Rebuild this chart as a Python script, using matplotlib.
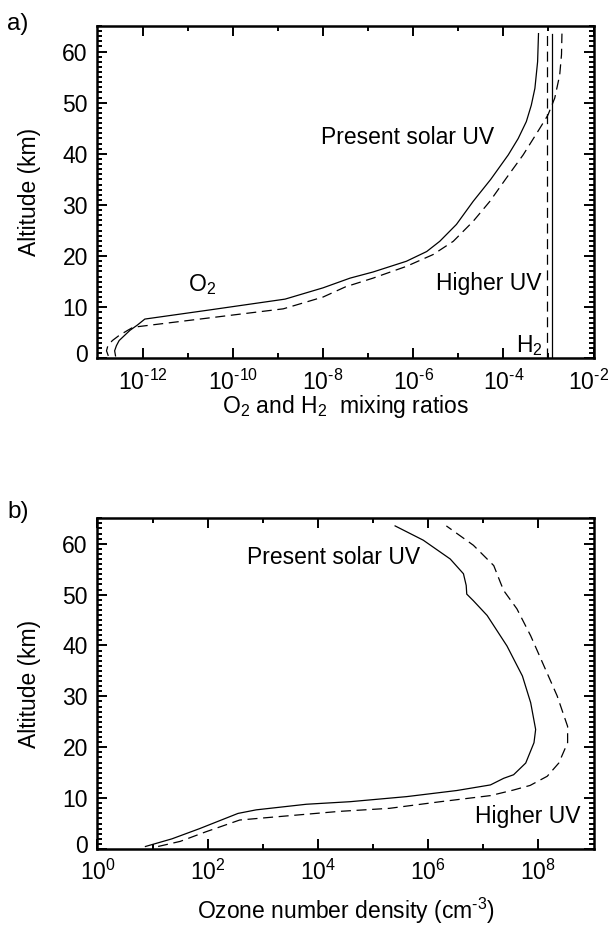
import matplotlib
matplotlib.use('Agg')
import matplotlib.pyplot as plt
import matplotlib.transforms as mtrans
import numpy as np
from matplotlib.ticker import FixedLocator, MultipleLocator, NullFormatter

plt.rcParams['font.family'] = ['Liberation Sans', 'DejaVu Sans']
plt.rcParams['mathtext.fontset'] = 'custom'
plt.rcParams['mathtext.rm'] = 'Liberation Sans'
plt.rcParams['mathtext.it'] = 'Liberation Sans:italic'
plt.rcParams['mathtext.bf'] = 'Liberation Sans:bold'

FS = 16.5      # annotations / axis titles
TFS = 16.5     # tick labels
HY = '\u2010'  # short hyphen used for the exponents

# ---- panel a: O2 and H2 mixing ratios (log10 values) ----
o2_alt_present = [0.5, 1.5, 2.5, 3.5, 4.5, 5.5, 6.5, 7.7, 9.5, 11.6, 13.8, 15.7, 16.9,
                  19.0, 20.9, 22.9, 26.2, 30.7, 35.0, 39.8, 43.0, 46.3, 49.5, 52.8,
                  58.0, 63.5]
o2_log_present = [-12.60, -12.62, -12.58, -12.52, -12.40, -12.28, -12.12, -11.95, -10.50,
                  -8.84, -8.00, -7.40, -6.89, -6.15, -5.70, -5.41, -5.04, -4.67, -4.28,
                  -3.89, -3.67, -3.49, -3.38, -3.30, -3.24, -3.22]

o2_alt_higher = [0.5, 1.5, 2.5, 3.5, 4.5, 5.5, 6.1, 9.7, 12.0, 14.0, 15.7, 18.0, 20.3,
                 22.9, 26.8, 30.7, 35.3, 39.8, 45.0, 47.6, 50.9, 55.4, 59.4, 63.5]
o2_log_higher = [-12.76, -12.80, -12.77, -12.67, -12.52, -12.33, -12.21, -8.88, -8.00,
                 -7.50, -6.89, -6.15, -5.56, -5.11, -4.67, -4.30, -3.93, -3.56, -3.19,
                 -3.01, -2.86, -2.75, -2.71, -2.70]

h2_alt = [0.0, 63.5]
h2_present = [1.2e-3, 1.2e-3]
h2_higher = [0.95e-3, 0.95e-3]

# ---- panel b: ozone number density (log10 cm^-3) ----
o3_alt_present = [0.5, 2.0, 4.0, 5.5, 7.0, 7.7, 8.8, 9.3, 10.3, 11.5, 12.6, 13.9, 14.6,
                  16.9, 20.9, 23.5, 28.75, 34.0, 39.9, 45.9, 48.8, 50.1, 51.8, 54.1,
                  57.0, 60.7, 63.5]
o3_log_present = [0.87, 1.35, 1.85, 2.20, 2.55, 2.88, 3.79, 4.58, 5.61, 6.52, 7.13, 7.37,
                  7.55, 7.77, 7.92, 7.95, 7.86, 7.71, 7.43, 7.07, 6.82, 6.70, 6.69, 6.64,
                  6.40, 5.91, 5.40]

o3_alt_higher = [0.5, 1.5, 3.4, 5.7, 6.1, 7.4, 8.0, 9.3, 10.5, 11.6, 12.5, 14.3, 16.9,
                 20.9, 24.1, 30.1, 36.0, 41.9, 47.2, 50.8, 52.4, 55.7, 59.7, 63.5]
o3_log_higher = [1.10, 1.50, 1.97, 2.58, 3.00, 4.39, 5.30, 6.22, 7.13, 7.55, 7.85, 8.16,
                 8.37, 8.53, 8.53, 8.34, 8.10, 7.86, 7.61, 7.37, 7.31, 7.19, 6.82, 6.33]

alt_ticks = [0, 10, 20, 30, 40, 50, 60]
a_major = [-12, -10, -8, -6, -4, -2]
a_minor = [-11, -9, -7, -5, -3]
b_major = [0, 2, 4, 6, 8]
b_minor = [1, 3, 5, 7]

dash = (0, (8, 4.5))


def pow_label(e):
    s = str(e).replace('-', HY)
    return '$\\mathregular{10^{%s}}$' % s


def shift(label, dx_px, dy_px):
    label.set_transform(label.get_transform()
                        + mtrans.ScaledTranslation(dx_px / 100, dy_px / 100,
                                                   fig.dpi_scale_trans))


def style_axes(ax, xmin, xmax, major, minor, xlabel, xlab_y):
    ax.set_xscale('log')
    ax.set_xlim(10.0 ** xmin, 10.0 ** xmax)
    ax.set_ylim(0, 65)
    ax.xaxis.set_major_locator(FixedLocator([10.0 ** e for e in major]))
    ax.xaxis.set_minor_locator(FixedLocator([10.0 ** e for e in minor]))
    ax.xaxis.set_minor_formatter(NullFormatter())
    ax.set_xticklabels([pow_label(e) for e in major])
    ax.yaxis.set_major_locator(FixedLocator(alt_ticks))
    ax.yaxis.set_minor_locator(MultipleLocator(1))
    ax.tick_params(which='both', direction='in', top=True, right=True,
                   labelsize=TFS, width=1.4)
    ax.tick_params(which='major', length=7)
    ax.tick_params(which='minor', length=3.5)
    ax.tick_params(axis='x', which='major', pad=8)
    ax.tick_params(axis='y', which='major', pad=7)
    for s in ax.spines.values():
        s.set_linewidth(1.8)
    ax.set_ylabel('Altitude (km)', fontsize=FS)
    ax.yaxis.set_label_coords(-0.113, 0.5)
    ax.set_xlabel(xlabel, fontsize=FS)
    ax.xaxis.set_label_coords(0.5, xlab_y)
    # the "0" altitude label sits a little above the bottom axis
    shift(ax.get_yticklabels()[0], 0, 5)


fig = plt.figure(figsize=(6.12, 9.33), dpi=100)
ax1 = fig.add_axes([0.1593, 0.6158, 0.8105, 0.3564])
ax2 = fig.add_axes([0.1593, 0.0900, 0.8105, 0.3545])

# panel a
ax1.plot(10.0 ** np.array(o2_log_present), o2_alt_present, color='black', lw=0.9)
ax1.plot(10.0 ** np.array(o2_log_higher), o2_alt_higher, color='black', lw=0.9, linestyle=dash)
ax1.plot(h2_present, h2_alt, color='black', lw=0.9)
ax1.plot(h2_higher, h2_alt, color='black', lw=0.9, linestyle=dash)
style_axes(ax1, -13, -2, a_major, a_minor, r'O$_2$ and H$_2$  mixing ratios', -0.104)
ax1.text(10 ** -4.2, 42.0, 'Present solar UV', fontsize=FS, ha='right', va='baseline')
ax1.text(10 ** -3.15, 13.4, 'Higher UV', fontsize=FS, ha='right', va='baseline')
ax1.text(10 ** -11.0, 13.2, r'O$_2$', fontsize=FS, ha='left', va='baseline')
ax1.text(10 ** -3.72, 1.2, r'H$_2$', fontsize=FS, ha='left', va='baseline')

# keep the last tick label ("10^-2") inside the figure edge
shift(ax1.get_xticklabels()[-1], -5, 0)

# panel b
ax2.plot(10.0 ** np.array(o3_log_present), o3_alt_present, color='black', lw=0.9)
ax2.plot(10.0 ** np.array(o3_log_higher), o3_alt_higher, color='black', lw=0.9, linestyle=dash)
style_axes(ax2, 0, 9, b_major, b_minor,
           'Ozone number density (cm$^{' + HY + '3}$)', -0.14)
ax2.text(10 ** 2.71, 56.0, 'Present solar UV', fontsize=FS, ha='left', va='baseline')
ax2.text(10 ** 8.77, 5.1, 'Higher UV', fontsize=FS, ha='right', va='baseline')

fig.text(0.012, 1 - 30 / 933, 'a)', fontsize=FS + 1, ha='left', va='baseline')
fig.text(0.012, 1 - 518 / 933, 'b)', fontsize=FS + 1, ha='left', va='baseline')

fig.savefig('out.png', dpi=100, facecolor='white')
